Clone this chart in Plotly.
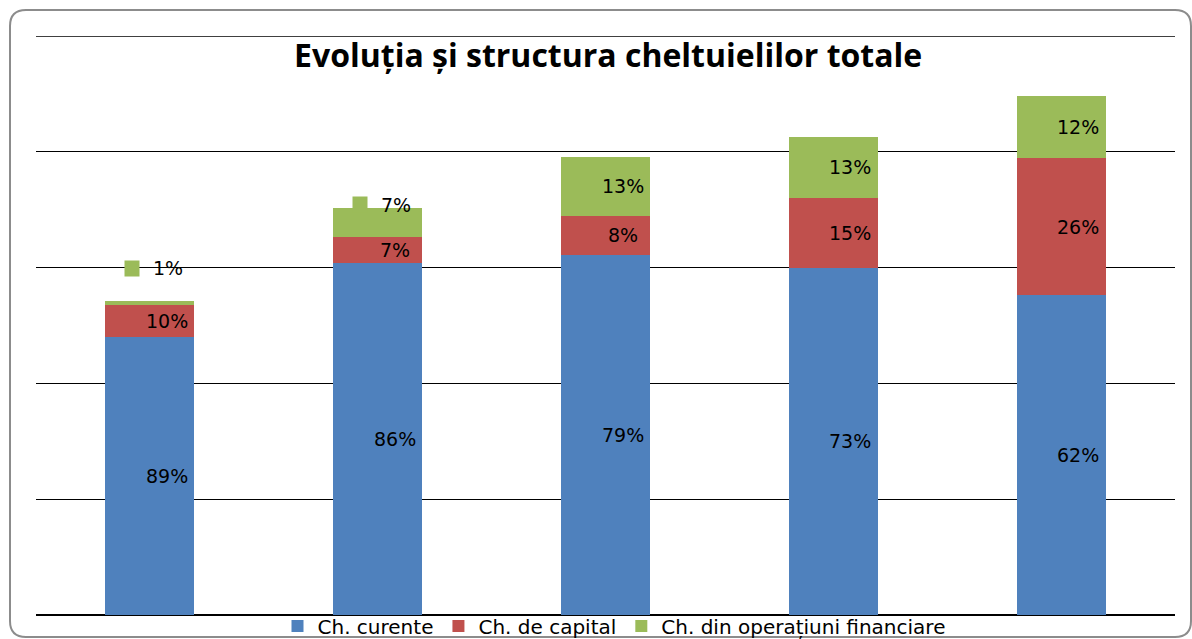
import plotly.graph_objects as go

categories = ["Anul 1", "Anul 2", "Anul 3", "Anul 4", "Anul 5"]
curente = [2400, 3040, 3109, 2997, 2763]
capital = [276, 225, 337, 605, 1183]
financiare = [35, 250, 510, 527, 535]

pct_curente = ["89%", "86%", "79%", "73%", "62%"]
pct_capital = ["10%", "7%", "8%", "15%", "26%"]
pct_financiare = ["1%", "7%", "13%", "13%", "12%"]

series_names = ["Ch. curente", "Ch. de capital", "Ch. din operațiuni financiare"]
colors = ["#4F81BD", "#C0504D", "#9BBB59"]

W, H = 1192, 639
L, R, T, B = 36, 17, 36, 24
pw, ph = W - L - R, H - T - B

fig = go.Figure()
for name, vals, col in zip(series_names, [curente, capital, financiare], colors):
    fig.add_trace(go.Bar(x=categories, y=vals, name=name, marker_color=col,
                         marker_line_width=0, width=0.39, hoverinfo="skip"))

annotations = []
lab_font = dict(family="DejaVu Sans, sans-serif", size=19, color="#000000")
for i, c in enumerate(categories):
    base = 0
    for j, (vals, pcts) in enumerate([(curente, pct_curente), (capital, pct_capital), (financiare, pct_financiare)]):
        v = vals[i]
        mid = base + v / 2
        top = base + v
        base = top
        if j == 2 and i in (0, 1):
            ysh = 33 if i == 0 else 3
            annotations.append(dict(x=c, y=top, xref="x", yref="y", text=pcts[i], showarrow=False,
                                    xshift=18, yshift=ysh, font=lab_font))
            annotations.append(dict(x=c, y=top, xref="x", yref="y", text=" ", showarrow=False,
                                    xshift=-18, yshift=ysh, width=10, height=11,
                                    bgcolor=colors[2], borderpad=2, font=dict(size=6)))
        else:
            annotations.append(dict(x=c, y=mid, xref="x", yref="y", text=pcts[i], showarrow=False,
                                    xshift=17, font=lab_font))

def px2x(px):
    return (px - L) / pw

def px2y(py):
    return (H - B - py) / ph

annotations.append(dict(x=px2x(608), y=px2y(54), xref="paper", yref="paper",
                        text="<b>Evoluția și structura cheltuielilor totale</b>", showarrow=False,
                        yanchor="middle", font=dict(family="Open Sans, sans-serif", size=32, color="#000000")))

x0, x1 = px2x(10), px2x(1191)
y0, y1 = px2y(637), px2y(10)
rx, ry = 16 / pw, 16 / ph
path = (f"M{x0 + rx},{y1} L{x1 - rx},{y1} Q{x1},{y1} {x1},{y1 - ry} "
        f"L{x1},{y0 + ry} Q{x1},{y0} {x1 - rx},{y0} L{x0 + rx},{y0} "
        f"Q{x0},{y0} {x0},{y0 + ry} L{x0},{y1 - ry} Q{x0},{y1} {x0 + rx},{y1} Z")

fig.update_layout(
    width=W, height=H,
    barmode="stack",
    margin=dict(l=L, r=R, t=T, b=B, autoexpand=False),
    paper_bgcolor="white", plot_bgcolor="white",
    showlegend=True,
    legend=dict(orientation="h", x=px2x(614), xanchor="center", y=px2y(626), yanchor="middle",
                traceorder="normal",
                font=dict(family="DejaVu Sans, sans-serif", size=20, color="#000000"),
                bgcolor="rgba(0,0,0,0)", itemwidth=30, tracegroupgap=0),
    xaxis=dict(showticklabels=False, showgrid=False, zeroline=False, showline=False,
               ticks="", range=[-0.5, 4.5]),
    yaxis=dict(range=[0, 5000], dtick=1000, showgrid=True, gridcolor="#000000", gridwidth=1,
               showticklabels=False, zeroline=True, zerolinecolor="#000000", zerolinewidth=1.5,
               ticks=""),
    annotations=annotations,
    shapes=[dict(type="path", xref="paper", yref="paper", path=path,
                 line=dict(color="#8C8C8C", width=2), fillcolor="rgba(0,0,0,0)", layer="above"),
            dict(type="line", xref="paper", yref="y", x0=0, x1=1, y0=5000, y1=5000,
                 line=dict(color="#000000", width=1.5), layer="below")],
)

fig.write_html("out.html", config={"displayModeBar": False},
               post_script="document.body.style.margin='0';document.body.style.overflow='hidden';")
